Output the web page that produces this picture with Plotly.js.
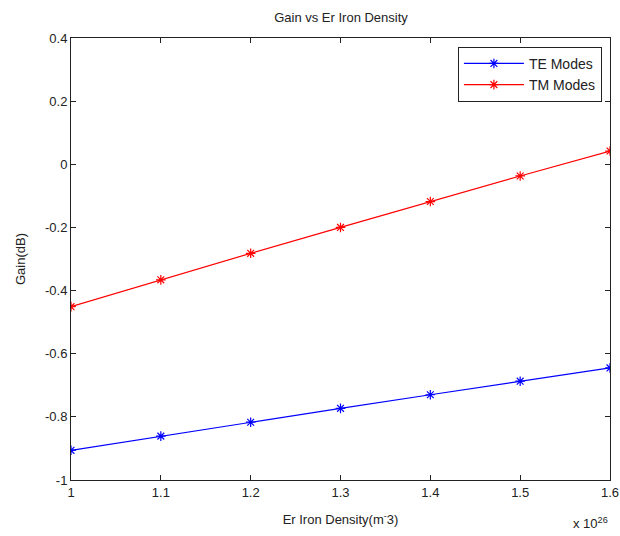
<!DOCTYPE html>
<html>
<head>
<meta charset="utf-8">
<script src="https://cdn.plot.ly/plotly-3.0.1.min.js"></script>
<style>
  html, body { margin: 0; padding: 0; background: #fff; }
  #chart { width: 620px; height: 536px; }
</style>
</head>
<body>
<div id="chart"></div>
<script>
// Er ion density in units of 1e26 m^-3
const density = [1.0, 1.1, 1.2, 1.3, 1.4, 1.5, 1.6];
const teGain = [-0.906, -0.861, -0.817, -0.773, -0.730, -0.687, -0.645];
const tmGain = [-0.451, -0.366, -0.282, -0.200, -0.118, -0.037, 0.042];
const xTicks = [1, 1.1, 1.2, 1.3, 1.4, 1.5, 1.6];
const yTicks = [-1, -0.8, -0.6, -0.4, -0.2, 0, 0.2, 0.4];

const font = { family: 'Liberation Sans, Arial, sans-serif', size: 13, color: '#222' };

const traces = [
  {
    x: density, y: teGain, name: 'TE Modes', mode: 'lines+markers',
    line: { color: '#0000ff', width: 1.2 },
    marker: { symbol: 'asterisk-open', size: 8, color: '#0000ff', line: { color: '#0000ff', width: 1.2 } }
  },
  {
    x: density, y: tmGain, name: 'TM Modes', mode: 'lines+markers',
    line: { color: '#ff0000', width: 1.2 },
    marker: { symbol: 'asterisk-open', size: 8, color: '#ff0000', line: { color: '#ff0000', width: 1.2 } }
  }
];

const axisCommon = {
  showgrid: false, zeroline: false, showline: true, mirror: 'allticks',
  linecolor: '#222', linewidth: 1, ticks: 'inside', ticklen: 5, tickcolor: '#222',
  tickfont: font
};

const layout = {
  width: 620, height: 536,
  margin: { l: 71, r: 10, t: 38, b: 56 },
  paper_bgcolor: '#fff', plot_bgcolor: '#fff',
  font: font,
  title: { text: 'Gain vs Er Iron Density', x: 0.55, xanchor: 'center', y: 0.968, yanchor: 'middle', font: { family: font.family, size: 13, color: '#222' } },
  xaxis: Object.assign({}, axisCommon, {
    range: [1, 1.6], tickvals: xTicks, ticktext: xTicks.map(v => String(v)),
    title: { text: 'Er Iron Density(m<sup>-</sup>3)', standoff: 16, font: font }
  }),
  yaxis: Object.assign({}, axisCommon, {
    range: [-1, 0.4], tickvals: yTicks, ticktext: yTicks.map(v => String(v)),
    title: { text: 'Gain(dB)', standoff: 16, font: font }
  }),
  legend: {
    x: 0.985, xanchor: 'right', y: 0.98, yanchor: 'top',
    bordercolor: '#222', borderwidth: 1, bgcolor: '#fff',
    font: { family: font.family, size: 14, color: '#222' },
    itemwidth: 60
  },
  annotations: [{
    xref: 'paper', yref: 'paper', x: 1.0, y: -0.075, xanchor: 'right', yanchor: 'top',
    text: 'x 10<sup>26</sup>', showarrow: false, font: font
  }],
  showlegend: true
};

Plotly.newPlot('chart', traces, layout, { displayModeBar: false, staticPlot: true });
</script>
</body>
</html>
